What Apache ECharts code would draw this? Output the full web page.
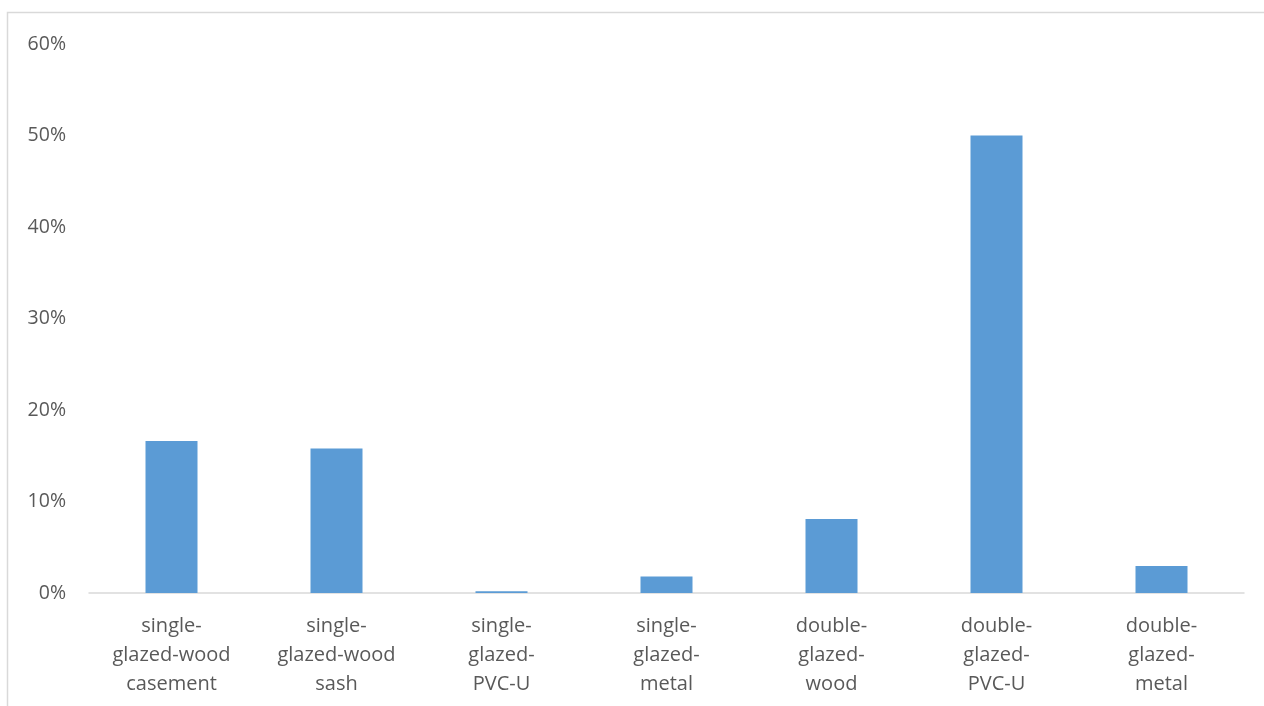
<!DOCTYPE html>
<html>
<head>
<meta charset="utf-8">
<script src="https://cdn.jsdelivr.net/npm/echarts@6/dist/echarts.min.js"></script>
<style>
  html, body { margin: 0; padding: 0; background: #fff; }
  #chart { width: 1264px; height: 706px; }
</style>
</head>
<body>
<div id="chart"></div>
<script>
// Window types (label lines broken where the axis wraps them)
const categories = [
  'single-\nglazed-wood\ncasement',
  'single-\nglazed-wood\nsash',
  'single-\nglazed-\nPVC-U',
  'single-\nglazed-\nmetal',
  'double-\nglazed-\nwood',
  'double-\nglazed-\nPVC-U',
  'double-\nglazed-\nmetal'
];
// Share of windows, in percent
const shares = [16.6, 15.8, 0.2, 1.8, 8.1, 50.0, 2.95];

const chart = echarts.init(document.getElementById('chart'), null, { renderer: 'canvas' });
const textFont = "'Open Sans', 'Liberation Sans', sans-serif";

chart.setOption({
  animation: false,
  backgroundColor: '#ffffff',
  graphic: [{
    type: 'rect',
    silent: true,
    shape: { x: 7.5, y: 12.5, width: 1400, height: 900 },
    style: { fill: 'none', stroke: '#d9d9d9', lineWidth: 1.5 }
  }],
  grid: { left: 89, right: 20, top: 44, bottom: 113, containLabel: false },
  xAxis: {
    type: 'category',
    data: categories,
    axisLine: { show: true, lineStyle: { color: '#d9d9d9', width: 1.5 } },
    axisTick: { show: false },
    axisLabel: {
      interval: 0,
      margin: 19,
      color: '#595959',
      fontSize: 20,
      lineHeight: 29,
      fontFamily: textFont,
      align: 'center'
    }
  },
  yAxis: {
    type: 'value',
    min: 0,
    max: 60,
    interval: 10,
    splitLine: { show: false },
    axisLine: { show: false },
    axisTick: { show: false },
    axisLabel: {
      margin: 23,
      color: '#595959',
      fontSize: 19.5,
      fontFamily: textFont,
      formatter: v => v + '%'
    }
  },
  series: [{
    type: 'bar',
    data: shares,
    barWidth: 52,
    itemStyle: { color: '#5b9bd5' }
  }]
});
</script>
</body>
</html>
